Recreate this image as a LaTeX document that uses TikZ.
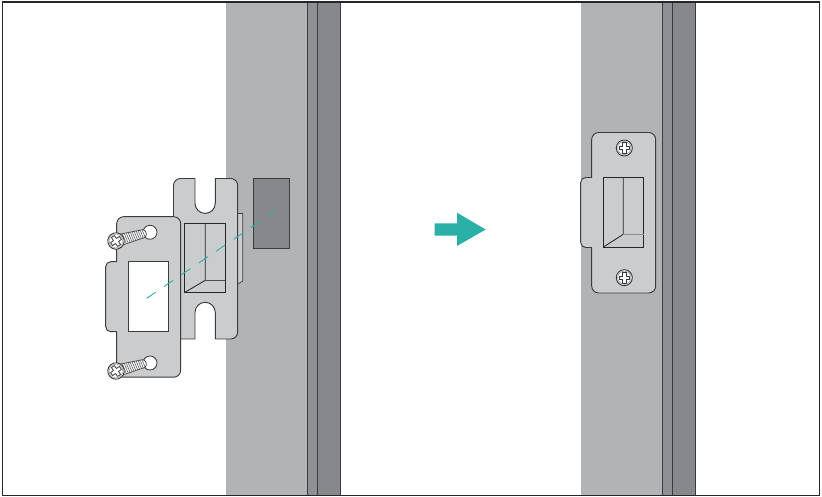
\documentclass[tikz,border=0pt]{standalone}
\definecolor{framelight}{HTML}{B2B3B5}
\definecolor{framemid}{HTML}{8F9093}
\definecolor{framedark}{HTML}{87888B}
\definecolor{platefill}{HTML}{CBCCCE}
\definecolor{lineink}{HTML}{3C3C3E}
\definecolor{teal}{HTML}{2BB0A8}
\tikzset{
  plate/.style={draw=lineink,line width=0.95pt,fill=platefill,line join=round},
  ink/.style={draw=black!85,line width=0.85pt},
  bandline/.style={draw=lineink,line width=0.6pt},
  holeoutline/.style={draw=lineink,line width=0.85pt,fill=white},
  thread/.style={draw=black!60,line width=0.65pt},
  guide/.style={draw=teal,line width=0.9pt,dash pattern=on 11pt off 10pt},
}
\newcommand{\frameband}[1]{
  \begin{scope}[xshift=#1pt]
    \fill[framelight] (-0.7,3) rectangle (80,495);
    \fill[framemid] (80,3) rectangle (90.6,495);
    \fill[framedark] (90.6,3) rectangle (113,495);
    \draw[bandline] (80,3) -- (80,495);
    \draw[bandline] (90.6,3) -- (90.6,495);
    \draw[bandline] (113,3) -- (113,495);
  \end{scope}
}
\newcommand{\frontplate}[2]{
  \begin{scope}[shift={(#1,#2)}]
  \draw[plate] (7,0) -- (57,0) .. controls (60.85,0) and (64,3.15) .. (64,7)
    -- (64,153.5) .. controls (64,157.35) and (60.85,160.5) .. (57,160.5)
    -- (7,160.5) .. controls (3.15,160.5) and (0,157.35) .. (0,153.5)
    -- (0,115) -- (-6,115) .. controls (-8.75,115) and (-11,112.75) .. (-11,110)
    -- (-11,50) .. controls (-11,47.25) and (-8.75,45) .. (-6,45)
    -- (0,45) -- (0,7) .. controls (0,3.15) and (3.15,0) .. (7,0) -- cycle;
  \end{scope}
}
\newcommand{\headcross}{
  \draw[line width=0.75pt,draw=black!80,fill=white,line join=round]
    (-1.8,-5.4) -- (1.8,-5.4) -- (1.8,-1.8) -- (5.4,-1.8) -- (5.4,1.8) -- (1.8,1.8) -- (1.8,5.4)
    -- (-1.8,5.4) -- (-1.8,1.8) -- (-5.4,1.8) -- (-5.4,-1.8) -- (-1.8,-1.8) -- cycle;
}
\newcommand{\screwset}[4]{
  \draw[holeoutline] (#3,#4) circle[radius=7];
  \begin{scope}[shift={(#1,#2)},rotate=15]
    \draw[draw=lineink,line width=0.7pt,fill=white] (5,-5.6) -- (29,-4) .. controls (32,-2) and (32,2) .. (29,4) -- (5,5.6) -- cycle;
    \foreach \q in {8,10,...,28}{
      \draw[thread] (\q,-4.9) -- (\q+1.2,4.6);
    }
    \draw[draw=black!80,line width=0.9pt,fill=white] (0,0) circle[radius=8.2];
    \draw[draw=black!45,line width=0.5pt] (0,0) circle[radius=6.9];
    \begin{scope}[rotate=20]\headcross\end{scope}
  \end{scope}
}
\newcommand{\flatscrew}[2]{
  \begin{scope}[shift={(#1,#2)}]
    \draw[draw=black!80,line width=0.9pt,fill=white] (0,0) circle[radius=8];
    \draw[draw=black!45,line width=0.5pt] (0,0) circle[radius=6.6];
    \headcross
  \end{scope}
}
\begin{document}
\begin{tikzpicture}[x=1pt,y=-1pt]
\useasboundingbox (0,0) rectangle (822,497);
\fill[white] (0,0) rectangle (822,497);
\frameband{227}
\frameband{582}
\fill[framedark] (253,178) rectangle (289,248);
\draw[bandline] (253,178) rectangle (289,248);
\draw[plate,line width=0.7pt] (237,213.5) -- (242.7,213.5) -- (242.7,281) -- (237,284.5) -- cycle;
\draw[plate] (180.5,178.5) -- (195,178.5) -- (195,203.2)
  .. controls (195,208.8) and (199.5,213.4) .. (205.15,213.4)
  .. controls (210.8,213.4) and (215.3,208.8) .. (215.3,203.2) -- (215.3,178.5) -- (230.7,178.5)
  .. controls (234.55,178.5) and (237.7,181.65) .. (237.7,185.5)
  -- (237.7,332) .. controls (237.7,335.85) and (234.55,339) .. (230.7,339)
  -- (215.3,339) -- (215.3,312.5)
  .. controls (215.3,306.9) and (210.8,302.3) .. (205.15,302.3)
  .. controls (199.5,302.3) and (195,306.9) .. (195,312.5) -- (195,339)
  -- (173.5,339) -- (173.5,185.5) .. controls (173.5,181.65) and (176.65,178.5) .. (180.5,178.5) -- cycle;
\draw[ink] (184.3,223.3) rectangle (225.3,292.7);
\draw[ink] (205.3,223.3) -- (205.3,280.3) -- (184.3,292.7);
\draw[ink,draw=black!70] (205.3,280.3) -- (225.3,280.3);
\frontplate{116.7}{216.7}
\draw[holeoutline] (128,261.7) rectangle (168.7,331.3);
\screwset{116}{241}{150}{232.3}
\screwset{116}{371}{150}{363}
\draw[guide] (146.7,298.3) -- (274.3,211.7);
\fill[teal] (434.7,223.3) -- (457,223.3) -- (457,212.7) -- (485.7,229.5) -- (457,246) -- (457,235.7) -- (434.7,235.7) -- cycle;
\frontplate{591.7}{132.5}
\draw[ink] (603,177.7) rectangle (643.7,247.3);
\draw[ink] (623.3,177.7) -- (623.3,234.3) -- (603,247.3);
\draw[draw=black!45,line width=1pt] (623.3,234.3) -- (643.7,234.3);
\flatscrew{624.3}{148}
\flatscrew{624.3}{277.7}
\draw[draw=black!85,line width=1.5pt] (2.4,2.2) rectangle (819.6,495.3);
\end{tikzpicture}
\end{document}
